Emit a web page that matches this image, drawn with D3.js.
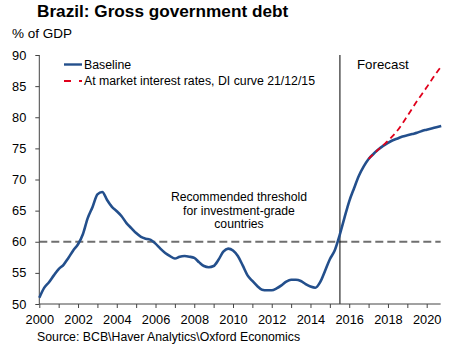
<!DOCTYPE html>
<html>
<head>
  <meta charset="utf-8">
  <script src="https://d3js.org/d3.v7.min.js"></script>
  <style>
    body { margin: 0; background: #fff; }
    text { font-family: "Liberation Sans", Arial, sans-serif; fill: #000; }
  </style>
</head>
<body>
<script>
  // quarterly readings, % of GDP
  var baseYears = d3.range(0, 84).map(function(i) { return 2000 + i * 0.25; });
  var baseline = [
    51.0, 52.6, 53.5, 54.6, 55.6, 56.3, 57.4, 58.6,
    59.6, 61.2, 63.8, 65.6, 67.6, 68.0, 66.7, 65.6,
    64.9, 64.1, 63.0, 62.2, 61.4, 60.8, 60.5, 60.3,
    59.7, 58.9, 58.2, 57.7, 57.3, 57.6, 57.7, 57.6,
    57.4, 56.7, 56.1, 55.9, 56.1, 57.1, 58.4, 58.9,
    58.6, 57.7, 56.2, 54.6, 53.7, 52.9, 52.3, 52.2,
    52.2, 52.5, 53.0, 53.6, 53.9, 53.9, 53.7, 53.2,
    52.8, 52.6, 53.5, 55.3, 57.2, 58.6, 61.0, 63.8,
    66.5, 68.6, 70.6, 72.1, 73.3, 74.1, 74.8, 75.4,
    75.9, 76.3, 76.6, 76.9, 77.1, 77.3, 77.5, 77.8,
    78.0, 78.2, 78.4, 78.6
  ];
  var marketYears = d3.range(0, 16).map(function(i) { return 2017 + i * 0.25; });
  var marketRates = [
    73.3, 74.1, 74.8, 75.5, 76.2, 77.0, 77.9, 79.0,
    80.2, 81.4, 82.6, 83.7, 84.8, 86.0, 87.1, 88.2
  ];
  var yTicks = [50, 55, 60, 65, 70, 75, 80, 85, 90];
  var xLabels = [2000, 2002, 2004, 2006, 2008, 2010, 2012, 2014, 2016, 2018, 2020];
  var threshold = 60;
  var forecastStart = 2015.52;

  var W = 453, H = 345;
  var svg = d3.select("body").append("svg")
    .attr("width", W).attr("height", H);

  var x = d3.scaleLinear().domain([2000, 2020]).range([39.3, 426.7]);
  var y = d3.scaleLinear().domain([50, 90]).range([304, 55]);
  var xEnd = x(2020.72);

  svg.append("text").attr("x", 37).attr("y", 17)
    .style("font-size", "17.2px").style("font-weight", "bold")
    .text("Brazil: Gross government debt");
  svg.append("text").attr("x", 12).attr("y", 37.5)
    .style("font-size", "13.5px").text("% of GDP");

  // threshold
  svg.append("line")
    .attr("x1", x(2000)).attr("x2", xEnd)
    .attr("y1", y(threshold)).attr("y2", y(threshold))
    .attr("stroke", "#6f6f6f").attr("stroke-width", 1.8)
    .attr("stroke-dasharray", "8,4");

  // forecast divider
  svg.append("line")
    .attr("x1", x(forecastStart)).attr("x2", x(forecastStart))
    .attr("y1", y(90)).attr("y2", y(50))
    .attr("stroke", "#000").attr("stroke-width", 1);

  // axes
  var yAxis = d3.axisLeft(y).tickValues(yTicks).tickSize(4).tickPadding(9);
  var gy = svg.append("g").attr("transform", "translate(" + x(2000) + ",0)").call(yAxis);
  gy.select(".domain").attr("stroke", "#444").attr("d", "M0," + y(90) + "V" + y(50));
  gy.selectAll(".tick line").attr("stroke", "#444");
  gy.selectAll(".tick text").style("font-size", "12.8px")
    .style("font-family", "'Liberation Sans', Arial, sans-serif").attr("fill", "#000");

  var xAxis = d3.axisBottom(x).tickValues(d3.range(2000, 2021)).tickSize(4)
    .tickFormat(function(d) { return xLabels.indexOf(d) >= 0 ? d : ""; });
  var gx = svg.append("g").attr("transform", "translate(0," + y(50) + ")").call(xAxis);
  gx.select(".domain").attr("stroke", "#444").attr("d", "M" + x(2000) + ",0H" + xEnd);
  gx.selectAll(".tick line").attr("stroke", "#444");
  gx.selectAll(".tick text").style("font-size", "12.8px").attr("dy", "1.05em")
    .style("font-family", "'Liberation Sans', Arial, sans-serif").attr("fill", "#000");

  var line = d3.line().curve(d3.curveMonotoneX);

  svg.append("path")
    .attr("d", line(baseYears.map(function(t, i) { return [x(t), y(baseline[i])]; })))
    .attr("fill", "none").attr("stroke", "#234f8c").attr("stroke-width", 2.6);

  svg.append("path")
    .attr("d", line(marketYears.map(function(t, i) { return [x(t), y(marketRates[i])]; })))
    .attr("fill", "none").attr("stroke", "#e0001b").attr("stroke-width", 1.8)
    .attr("stroke-dasharray", "6,4");

  // legend
  svg.append("line").attr("x1", 64).attr("x2", 82).attr("y1", 64.5).attr("y2", 64.5)
    .attr("stroke", "#234f8c").attr("stroke-width", 2.4);
  svg.append("text").attr("x", 84).attr("y", 68.5).style("font-size", "12.3px").text("Baseline");
  svg.append("line").attr("x1", 64).attr("x2", 82).attr("y1", 81).attr("y2", 81)
    .attr("stroke", "#e0001b").attr("stroke-width", 1.8).attr("stroke-dasharray", "7,8");
  svg.append("text").attr("x", 84).attr("y", 85).style("font-size", "12.3px")
    .text("At market interest rates, DI curve 21/12/15");

  svg.append("text").attr("x", 357).attr("y", 69).style("font-size", "13.3px").text("Forecast");

  var note = ["Recommended threshold", "for investment-grade", "countries"];
  svg.append("g").selectAll("text").data(note).enter().append("text")
    .attr("x", 239).attr("y", function(d, i) { return 201 + i * 13.5; })
    .attr("text-anchor", "middle").style("font-size", "12.2px")
    .text(function(d) { return d; });

  svg.append("text").attr("x", 37).attr("y", 341).style("font-size", "12.3px")
    .text("Source: BCB\\Haver Analytics\\Oxford Economics");
</script>
</body>
</html>
